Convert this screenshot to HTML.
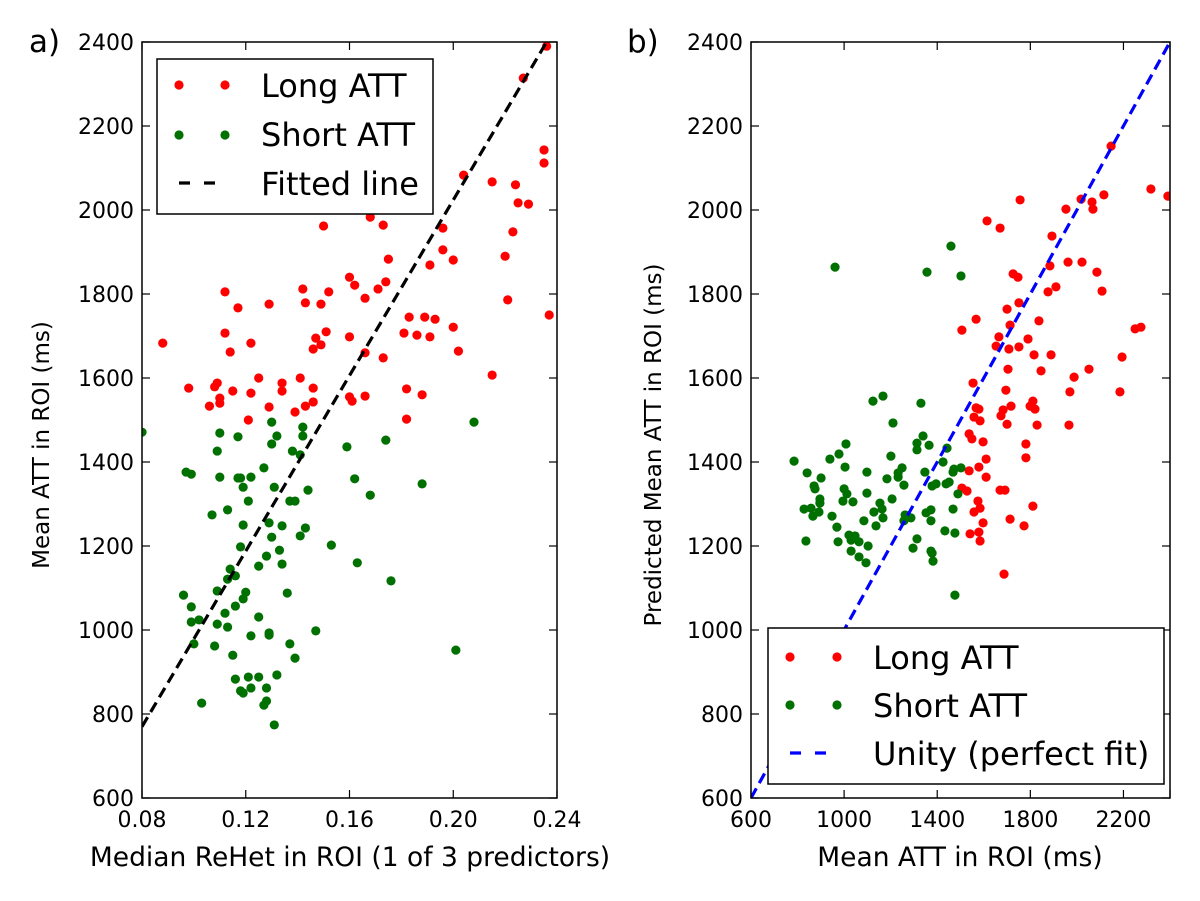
<!DOCTYPE html>
<html><head><meta charset="utf-8">
<style>
html,body{margin:0;padding:0;background:#fff;}
svg{display:block;font-family:"DejaVu Sans","Liberation Sans",sans-serif;}
</style></head>
<body>
<svg id="fig" width="1200" height="901" viewBox="0 0 1200 901" xmlns="http://www.w3.org/2000/svg"></svg>
<script>
// ---- Panel a data ----
const aLongX=[0.236,0.227,0.235,0.235,0.204,0.215,0.224,0.225,0.229,0.150,0.168,0.173,0.196,0.223,0.196,0.200,0.175,0.191,0.220,0.160,0.162,0.174,0.171,0.166,0.142,0.152,0.112,0.221,0.237,0.117,0.129,0.143,0.149,0.183,0.189,0.193,0.200,0.088,0.112,0.122,0.114,0.151,0.147,0.149,0.146,0.160,0.166,0.173,0.181,0.186,0.191,0.202,0.215,0.098,0.109,0.108,0.115,0.122,0.125,0.134,0.134,0.141,0.146,0.106,0.110,0.110,0.129,0.139,0.143,0.146,0.160,0.161,0.166,0.182,0.188,0.121,0.182];
const aLongY=[2390,2314,2143,2112,2083,2067,2060,2017,2014,1962,1983,1964,1957,1948,1905,1881,1883,1869,1890,1840,1821,1829,1812,1790,1812,1805,1805,1786,1750,1767,1776,1779,1776,1745,1745,1740,1721,1683,1707,1683,1662,1710,1695,1679,1669,1698,1660,1648,1707,1702,1698,1664,1607,1576,1588,1579,1569,1564,1600,1588,1569,1600,1576,1533,1540,1552,1531,1519,1533,1543,1555,1545,1557,1574,1560,1500,1502];
const aShortX=[0.080,0.130,0.208,0.110,0.117,0.132,0.130,0.142,0.142,0.109,0.138,0.141,0.159,0.174,0.097,0.099,0.110,0.117,0.118,0.122,0.127,0.119,0.131,0.144,0.162,0.188,0.168,0.121,0.137,0.139,0.107,0.113,0.119,0.129,0.134,0.143,0.130,0.141,0.118,0.153,0.133,0.128,0.125,0.134,0.163,0.114,0.116,0.113,0.176,0.096,0.099,0.109,0.120,0.119,0.116,0.136,0.099,0.102,0.112,0.109,0.113,0.125,0.100,0.108,0.122,0.129,0.129,0.147,0.137,0.115,0.139,0.201,0.116,0.121,0.125,0.132,0.118,0.119,0.122,0.128,0.103,0.128,0.127,0.131];
const aShortY=[1471,1495,1495,1469,1460,1462,1443,1483,1462,1426,1426,1417,1436,1452,1376,1371,1364,1362,1362,1364,1386,1340,1340,1333,1360,1348,1321,1307,1307,1307,1274,1286,1250,1255,1248,1243,1221,1224,1198,1202,1190,1176,1152,1157,1160,1145,1129,1121,1117,1083,1055,1093,1090,1074,1057,1088,1019,1024,1040,1014,1007,1031,967,962,986,993,988,998,967,940,933,952,883,888,888,893,855,850,862,862,826,831,821,774];
const aFitIntercept=-66, aFitSlope=10449;
const aXTicks=[0.08,0.12,0.16,0.20,0.24];
const aXTickLabels=["0.08","0.12","0.16","0.20","0.24"];
const yTicks=[600,800,1000,1200,1400,1600,1800,2000,2200,2400];
// ---- Panel b data ----
const bLongX=[2147,2318,2391,1756,1953,2018,2065,2069,2116,1614,1670,1893,1962,2022,2086,1884,1726,1747,1910,1876,2108,1751,1700,1567,1506,1713,1837,1665,1653,1708,1751,1790,1816,1889,2250,2275,2194,1704,1846,2052,1988,1554,1695,1970,2185,1567,1579,1683,1717,1811,1799,1820,1558,1584,1674,1700,1829,1966,1537,1549,1597,1781,1781,1610,1579,1537,1610,1506,1528,1670,1691,1575,1584,1558,1811,1713,1597,1773,1541,1579,1584,1687];
const bLongY=[2152,2050,2033,2024,2002,2026,2019,2002,2036,1974,1957,1938,1876,1876,1852,1867,1848,1840,1817,1805,1807,1779,1764,1740,1714,1726,1736,1698,1676,1669,1674,1693,1655,1655,1717,1721,1650,1621,1617,1621,1602,1588,1571,1567,1567,1529,1526,1524,1533,1545,1533,1526,1507,1498,1510,1490,1488,1488,1467,1455,1448,1443,1410,1407,1388,1379,1364,1338,1331,1333,1333,1307,1290,1281,1295,1264,1255,1248,1229,1233,1212,1133];
const bShortX=[961,1459,1356,1502,1124,1167,1330,1210,1008,1339,1313,1365,1313,1442,785,939,978,1201,1425,1004,841,901,1098,1249,1232,1184,1232,1347,1472,1502,1468,871,875,1000,1012,1257,1378,1395,1438,1451,1489,1098,896,896,995,1038,1206,1154,828,858,866,892,948,1128,1163,1167,1085,1262,1287,1257,1352,1373,1373,1468,1137,969,836,974,1021,1047,1030,1064,1103,1030,1064,1094,1313,1296,1373,1378,1382,1433,1476,1476];
const bShortY=[1864,1914,1852,1843,1545,1557,1540,1493,1443,1462,1445,1440,1429,1433,1402,1407,1419,1414,1400,1388,1374,1362,1376,1386,1374,1360,1364,1376,1383,1386,1376,1343,1336,1336,1324,1345,1343,1348,1348,1352,1324,1326,1312,1302,1307,1305,1312,1302,1288,1290,1271,1281,1271,1281,1288,1267,1260,1274,1267,1260,1279,1286,1260,1288,1248,1245,1212,1210,1226,1224,1214,1210,1200,1188,1174,1160,1217,1195,1188,1183,1164,1236,1231,1083];
const bXTicks=[600,1000,1400,1800,2200,2400];
const bXTickLabels=["600","1000","1400","1800","2200",""];

const NS="http://www.w3.org/2000/svg";
const svg=document.getElementById('fig');
function mk(tag,attrs,parent){const e=document.createElementNS(NS,tag);for(const k in attrs)e.setAttribute(k,attrs[k]);(parent||svg).appendChild(e);return e;}

const yTop=42,yBot=798;
function yS(v){return yBot-(v-600)/1800*(yBot-yTop);}
const A={l:142,r:557,x0:0.08,x1:0.24};
const B={l:751,r:1170,x0:600,x1:2400};
function xA(v){return A.l+(v-A.x0)/(A.x1-A.x0)*(A.r-A.l);}
function xB(v){return B.l+(v-B.x0)/(B.x1-B.x0)*(B.r-B.l);}

function panel(P,xf,xt,xtl,name){
  const g=mk('g',{});
  
  
  xt.forEach((v,i)=>{
    const x=xf(v);
    const t1=mk('line',{x1:x,x2:x,y1:yBot,y2:yBot-8,stroke:'#000','stroke-width':1.2},g);
    
    
    mk('line',{x1:x,x2:x,y1:yTop,y2:yTop+8,stroke:'#000','stroke-width':1.2},g);
    if(xtl[i]!==""){
      const tx=mk('text',{x:x,y:yBot+29,'text-anchor':'middle','font-size':22},g);
      tx.textContent=xtl[i];
      
      
    }
  });
  yTicks.forEach(v=>{
    const y=yS(v);
    const t=mk('line',{x1:P.l,x2:P.l+8,y1:y,y2:y,stroke:'#000','stroke-width':1.2},g);
    
    
    mk('line',{x1:P.r,x2:P.r-8,y1:y,y2:y,stroke:'#000','stroke-width':1.2},g);
    const tx=mk('text',{x:P.l-8,y:y+8,'text-anchor':'end','font-size':22},g);
    tx.textContent=String(v);
    
    
  });
  return g;
}
function dots(xs,ys,xf,color,name,g){
  xs.forEach((v,i)=>{
    const c=mk('circle',{cx:xf(v),cy:yS(ys[i]),r:4.6,fill:color},g);
    
    
  });
}
function clip(id,P){const cp=mk('clipPath',{id:id});mk('rect',{x:P.l,y:yTop,width:P.r-P.l,height:yBot-yTop},cp);}
clip('ca',A);clip('cb',B);

const ga=panel(A,xA,aXTicks,aXTickLabels,'panel-a');
const gaPlot=mk('g',{'clip-path':'url(#ca)'},ga);
dots(aLongX,aLongY,xA,'#ff0000','long-att-point',gaPlot);
dots(aShortX,aShortY,xA,'#007000','short-att-point',gaPlot);
const fl=mk('line',{x1:xA(A.x0),y1:yS(aFitIntercept+aFitSlope*A.x0),x2:xA(A.x1),y2:yS(aFitIntercept+aFitSlope*A.x1),stroke:'#000','stroke-width':3.2,'stroke-dasharray':'11,6'},gaPlot);


const fa=mk('rect',{x:A.l,y:yTop,width:A.r-A.l,height:yBot-yTop,fill:'none',stroke:'#000','stroke-width':1.5},ga);



const gb=panel(B,xB,bXTicks,bXTickLabels,'panel-b');
const gbPlot=mk('g',{'clip-path':'url(#cb)'},gb);
dots(bLongX,bLongY,xB,'#ff0000','long-att-point',gbPlot);
dots(bShortX,bShortY,xB,'#007000','short-att-point',gbPlot);
const ul=mk('line',{x1:xB(600),y1:yS(600),x2:xB(2400),y2:yS(2400),stroke:'#0000ff','stroke-width':3.2,'stroke-dasharray':'11,6'},gbPlot);


const fb=mk('rect',{x:B.l,y:yTop,width:B.r-B.l,height:yBot-yTop,fill:'none',stroke:'#000','stroke-width':1.5},gb);


</script>

<svg style="position:absolute;left:0;top:0" width="1200" height="901" xmlns="http://www.w3.org/2000/svg" font-family="DejaVu Sans, Liberation Sans, sans-serif">
  <text x="29" y="52" font-size="31">a)</text>
  <text x="627" y="52" font-size="31">b)</text>
  <text transform="translate(49,445) rotate(-90)" text-anchor="middle" font-size="23">Mean ATT in ROI (ms)</text>
  <text x="350" y="866" text-anchor="middle" font-size="26.5">Median ReHet in ROI (1 of 3 predictors)</text>
  <text transform="translate(661,445) rotate(-90)" text-anchor="middle" font-size="23">Predicted Mean ATT in ROI (ms)</text>
  <text x="960" y="866" text-anchor="middle" font-size="26.5">Mean ATT in ROI (ms)</text>

  <g>
    <rect x="157" y="59" width="276" height="155" fill="#fff" stroke="#000" stroke-width="1.5"/>
    <g>
      <circle cx="179" cy="85" r="4.6" fill="#ff0000"/><circle cx="225" cy="85" r="4.6" fill="#ff0000"/>
      <text x="261" y="97" font-size="32">Long ATT</text>
    </g>
    <g>
      <circle cx="179" cy="135" r="4.6" fill="#007000"/><circle cx="225" cy="135" r="4.6" fill="#007000"/>
      <text x="261" y="146" font-size="32">Short ATT</text>
    </g>
    <g>
      <line x1="179" y1="183" x2="226" y2="183" stroke="#000" stroke-width="3.2" stroke-dasharray="11,14"/>
      <text x="261" y="195" font-size="32">Fitted line</text>
    </g>
  </g>

  <g>
    <rect x="768" y="628" width="396" height="156" fill="#fff" stroke="#000" stroke-width="1.5"/>
    <g>
      <circle cx="790" cy="657" r="4.6" fill="#ff0000"/><circle cx="837" cy="657" r="4.6" fill="#ff0000"/>
      <text x="873" y="669" font-size="32">Long ATT</text>
    </g>
    <g>
      <circle cx="790" cy="705" r="4.6" fill="#007000"/><circle cx="837" cy="705" r="4.6" fill="#007000"/>
      <text x="873" y="717" font-size="32">Short ATT</text>
    </g>
    <g>
      <line x1="790" y1="753" x2="838" y2="753" stroke="#0000ff" stroke-width="3.2" stroke-dasharray="11,14"/>
      <text x="873" y="765" font-size="32">Unity (perfect fit)</text>
    </g>
  </g>
</svg>
</body></html>
